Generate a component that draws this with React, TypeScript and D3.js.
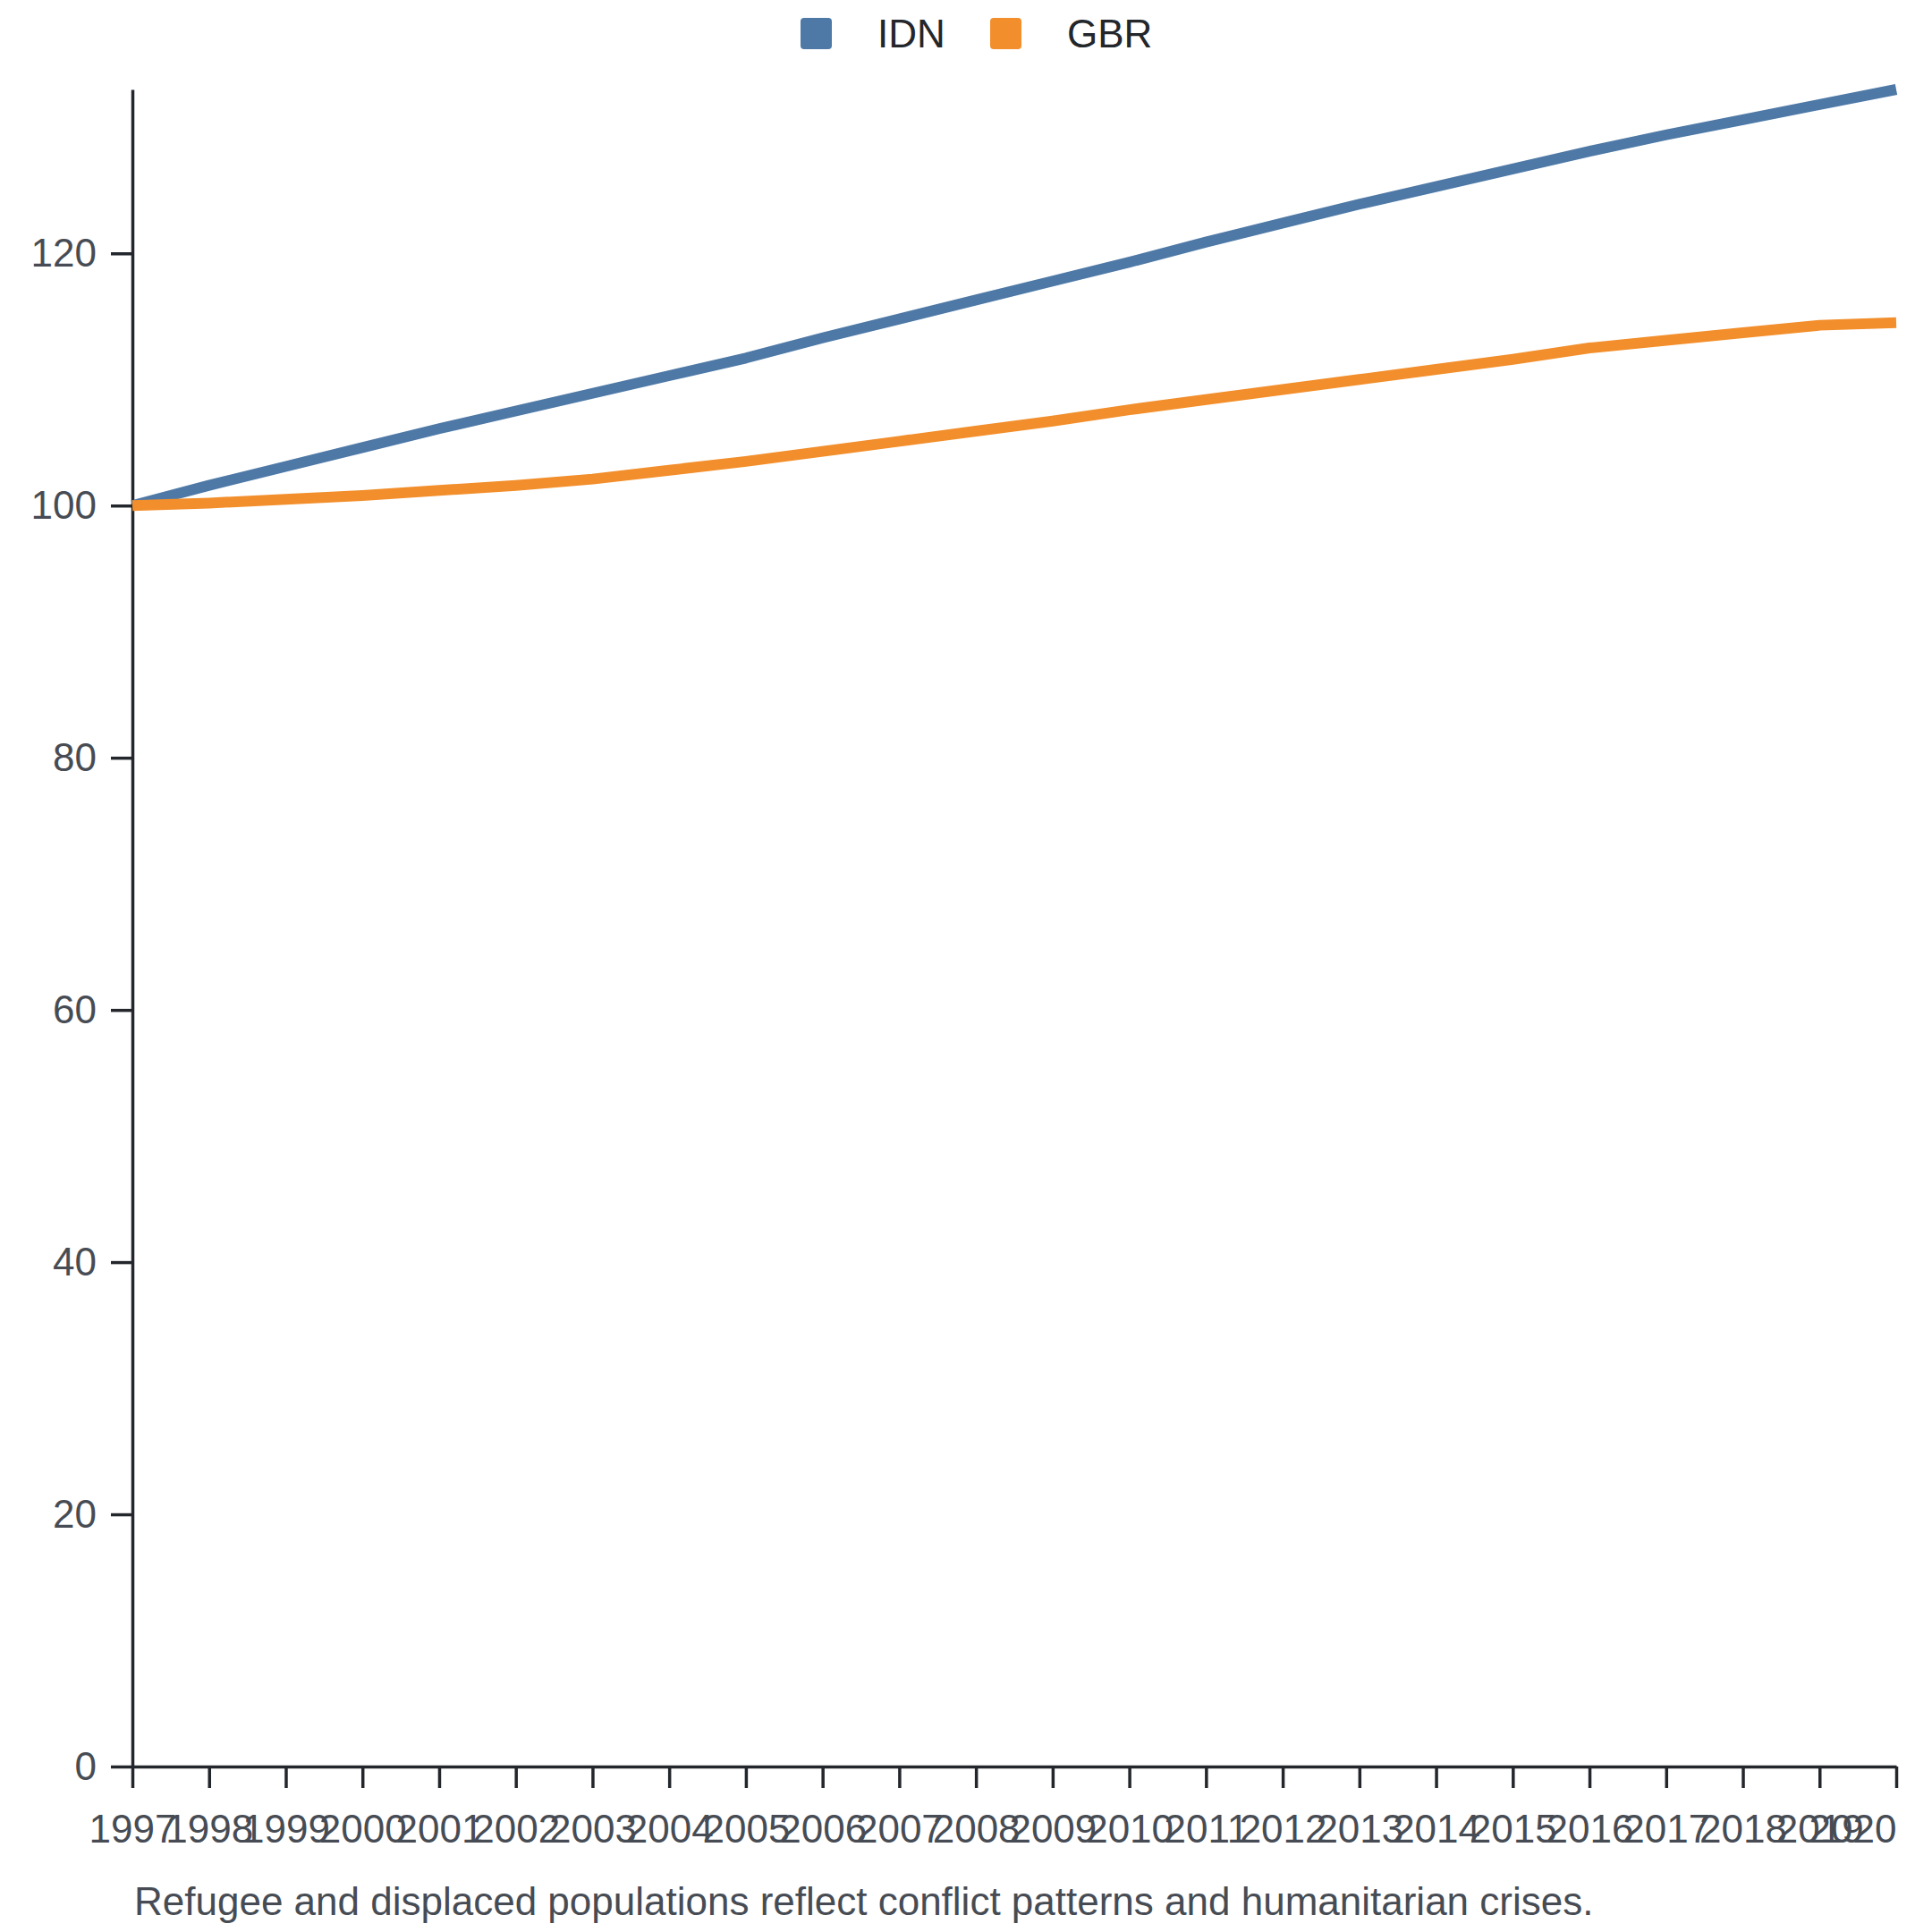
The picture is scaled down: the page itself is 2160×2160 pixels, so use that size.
import React, { useEffect, useRef } from "react";
import * as d3 from "d3";

const years = [
  1997, 1998, 1999, 2000, 2001, 2002, 2003, 2004, 2005, 2006, 2007, 2008,
  2009, 2010, 2011, 2012, 2013, 2014, 2015, 2016, 2017, 2018, 2019, 2020,
];

const idnValues = [
  100.0, 101.6, 103.1, 104.6, 106.1, 107.5, 108.9, 110.3, 111.7, 113.3, 114.8,
  116.3, 117.8, 119.3, 120.9, 122.4, 123.9, 125.3, 126.7, 128.1, 129.4, 130.6,
  131.8, 133.0,
];

const gbrValues = [
  100.0, 100.2, 100.5, 100.8, 101.2, 101.6, 102.1, 102.8, 103.5, 104.3, 105.1,
  105.9, 106.7, 107.6, 108.4, 109.2, 110.0, 110.8, 111.6, 112.5, 113.1, 113.7,
  114.3, 114.5,
];

const seriesNames = ["IDN", "GBR"];
const seriesColors = ["#4e79a7", "#f28e2b"];
const yTicks = [0, 20, 40, 60, 80, 100, 120];
const caption =
  "Refugee and displaced populations reflect conflict patterns and humanitarian crises.";

interface IPoint {
  year: number;
  value: number;
}

function App() {
  const ref = useRef<SVGSVGElement | null>(null);

  useEffect(() => {
    const W = 2160;
    const H = 2160;
    const left = 148;
    const right = 2120;
    const top = 100;
    const bottom = 1975;
    const font = "Arial, 'Liberation Sans', Helvetica, sans-serif";
    const fs = "44px";
    const axisColor = "#23262b";
    const labelColor = "#474c54";

    const svg = d3.select(ref.current).attr("width", W).attr("height", H);
    svg.selectAll("*").remove();

    svg.append("rect").attr("width", W).attr("height", H).attr("fill", "white");

    const allValues = idnValues.concat(gbrValues);
    const x = d3
      .scaleLinear()
      .domain([years[0], years[years.length - 1]])
      .range([left, right]);
    const y = d3
      .scaleLinear()
      .domain([0, d3.max(allValues) as number])
      .range([bottom, top]);

    // y axis
    const yAxis = svg
      .append("g")
      .attr("transform", `translate(${left},0)`)
      .call(
        d3
          .axisLeft(y)
          .tickValues(yTicks)
          .tickSize(24)
          .tickPadding(16)
          .tickSizeOuter(0)
      );
    yAxis.select(".domain").attr("stroke", axisColor).attr("stroke-width", 3.5);
    yAxis.selectAll(".tick line").attr("stroke", axisColor).attr("stroke-width", 3.5);
    yAxis
      .selectAll(".tick text")
      .attr("fill", labelColor)
      .style("font-family", font)
      .style("font-size", fs);

    // x axis
    const xAxis = svg
      .append("g")
      .attr("transform", `translate(0,${bottom})`)
      .call(
        d3
          .axisBottom(x)
          .tickValues(years)
          .tickFormat(d3.format("d"))
          .tickSize(24)
          .tickPadding(30)
          .tickSizeOuter(0)
      );
    xAxis.select(".domain").attr("stroke", axisColor).attr("stroke-width", 3.5);
    xAxis.selectAll(".tick line").attr("stroke", axisColor).attr("stroke-width", 3.5);
    xAxis
      .selectAll<SVGTextElement, number>(".tick text")
      .attr("fill", labelColor)
      .attr("text-anchor", (d) => (d === years[years.length - 1] ? "end" : "middle"))
      .style("font-family", font)
      .style("font-size", fs);

    // lines
    const line = d3
      .line<IPoint>()
      .x((d) => x(d.year))
      .y((d) => y(d.value));

    const series = [idnValues, gbrValues];
    series.forEach((vals, i) => {
      const pts: IPoint[] = years.map((yr, j) => ({ year: yr, value: vals[j] }));
      svg
        .append("path")
        .datum(pts)
        .attr("d", line)
        .attr("fill", "none")
        .attr("stroke", seriesColors[i])
        .attr("stroke-width", 12)
        .attr("stroke-linejoin", "round");
    });

    // legend
    const legend = svg.append("g").attr("transform", "translate(895,20)");
    seriesNames.forEach((name, i) => {
      const g = legend.append("g").attr("transform", `translate(${i * 212},0)`);
      g.append("rect")
        .attr("width", 35)
        .attr("height", 35)
        .attr("rx", 4)
        .attr("fill", seriesColors[i]);
      g.append("text")
        .attr("x", 86)
        .attr("y", 33)
        .attr("fill", axisColor)
        .style("font-family", font)
        .style("font-size", fs)
        .text(name);
    });

    // caption
    svg
      .append("text")
      .attr("x", 150)
      .attr("y", 2141)
      .attr("fill", labelColor)
      .style("font-family", font)
      .style("font-size", fs)
      .text(caption);
  }, []);

  return (
    <svg
      ref={ref}
      style={{ position: "absolute", left: 0, top: 0, display: "block" }}
    />
  );
}

export default App;
